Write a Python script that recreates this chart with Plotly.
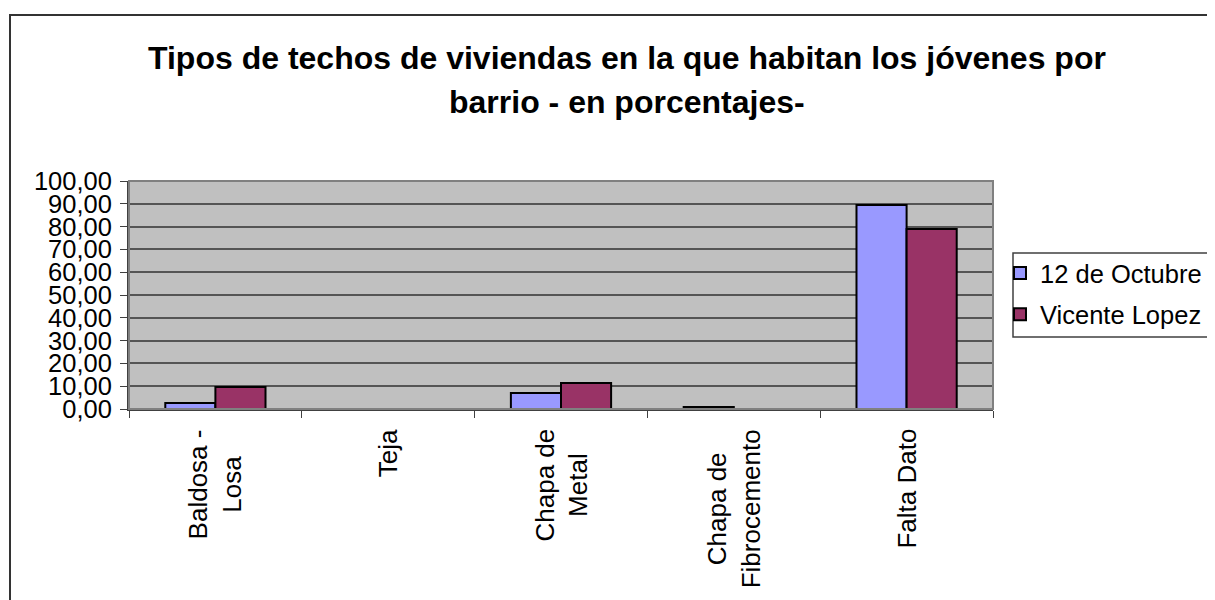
import plotly.graph_objects as go

categories = ["Baldosa -<br>Losa", "Teja", "Chapa de<br>Metal", "Chapa de<br>Fibrocemento", "Falta Dato"]
series_names = ["12 de Octubre", "Vicente Lopez"]
octubre = [2.6, 0.0, 7.0, 0.9, 89.5]
vicente = [9.7, 0.0, 11.4, 0.0, 79.0]
series_colors = ["#9999FF", "#993366"]
title_lines = ["Tipos de techos de viviendas en la que habitan los jóvenes por",
               "barrio - en porcentajes-"]
y_ticks = [0, 10, 20, 30, 40, 50, 60, 70, 80, 90, 100]

FONT = "Arial, 'Liberation Sans', sans-serif"

fig = go.Figure()
for name, vals, col in zip(series_names, [octubre, vicente], series_colors):
    fig.add_trace(go.Bar(
        x=categories, y=vals, name=name, legendgroup=name,
        marker=dict(color=col, line=dict(color="black", width=2)),
    ))

# page has an 8px body margin; reference pixel coords are converted below
W, H = 1215, 600
L, T = 121, 173
PW, PH = 864, 228
R, B = W - L - PW, H - T - PH

def px_x(x):
    return (x - 129) / PW

def px_y(y):
    return (409 - y) / PH

fig.update_layout(
    width=W, height=H,
    margin=dict(l=L, r=R, t=T, b=B, autoexpand=False),
    paper_bgcolor="white", plot_bgcolor="#C0C0C0",
    separators=",.",
    font=dict(family=FONT, size=25, color="black"),
    barmode="group", bargap=0.42, bargroupgap=0,
    showlegend=True,
    legend=dict(x=px_x(1000), y=px_y(250), xanchor="left", yanchor="top",
                borderwidth=0, bgcolor="rgba(0,0,0,0)", tracegroupgap=5,
                font=dict(size=25.5)),
    xaxis=dict(type="category", showgrid=False, showline=True, linecolor="#404040",
               linewidth=2, ticks="outside", tickson="boundaries", ticklen=7,
               tickcolor="#404040", showticklabels=False),
    yaxis=dict(range=[0, 100], tickvals=y_ticks, tickformat=".2f", showgrid=True,
               gridcolor="#555555", gridwidth=1.5, showline=True, linecolor="#404040",
               linewidth=2, ticks="outside", ticklen=7, tickcolor="#404040",
               tickfont=dict(size=25.5), ticklabelstandoff=3, zeroline=False),
)

# category labels, rotated, centred lines, top-aligned under the axis
for cat in categories:
    fig.add_annotation(text=cat, xref="x", yref="paper", x=cat, y=px_y(427),
                       xanchor="center", yanchor="top", textangle=-90, align="center",
                       showarrow=False, font=dict(size=26, family=FONT))

for i, line in enumerate(title_lines):
    fig.add_annotation(text="<b>" + line + "</b>", xref="paper", yref="paper",
                       x=px_x(627), y=px_y(58 + 44 * i), xanchor="center", yanchor="middle",
                       showarrow=False, font=dict(size=32, family=FONT))

# plot area border, legend box and outer chart border
fig.add_shape(type="rect", xref="paper", yref="paper", x0=0, y0=0, x1=1, y1=1,
              line=dict(color="#808080", width=2), layer="above")
fig.add_shape(type="rect", xref="paper", yref="paper",
              x0=px_x(1013), y0=px_y(337), x1=px_x(1300), y1=px_y(253),
              line=dict(color="#404040", width=1.5), layer="below")
fig.add_shape(type="rect", xref="paper", yref="paper",
              x0=px_x(10), y0=px_y(640), x1=px_x(1260), y1=px_y(15),
              line=dict(color="#333333", width=2), layer="below")

fig.write_html("out.html")
